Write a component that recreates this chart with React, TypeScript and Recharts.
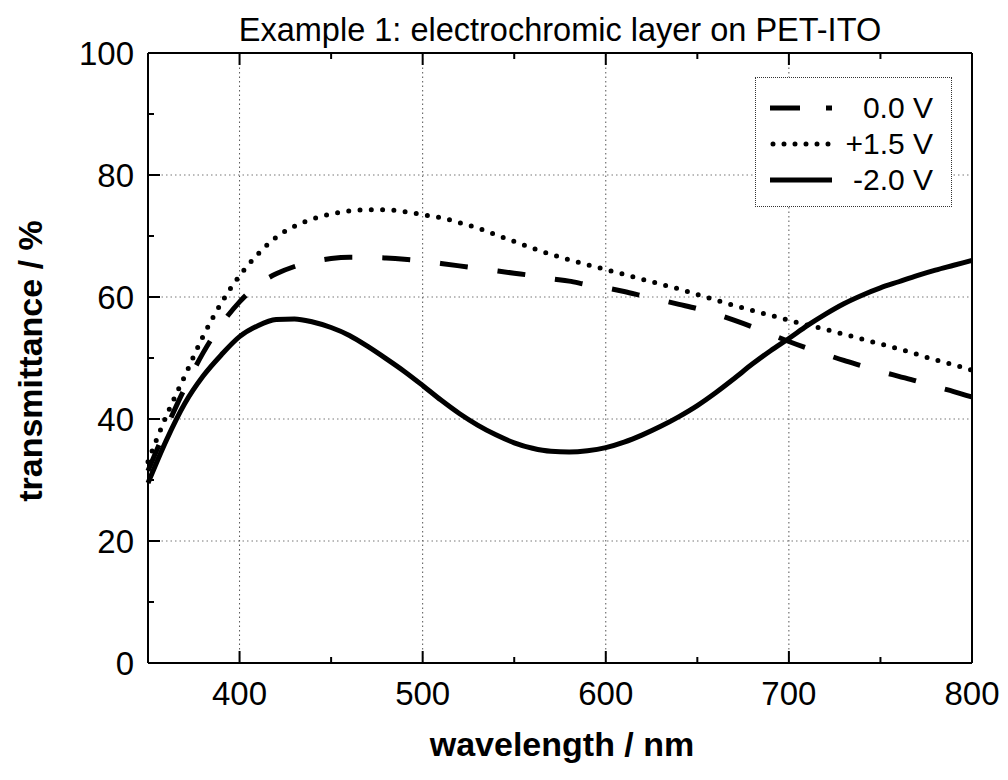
import React from "react";
import { LineChart, Line, XAxis, YAxis, ReferenceLine, Legend } from "recharts";

const FONT = "'Liberation Sans', Arial, sans-serif";

// wavelength in nm
const wavelengths = [
  350, 360, 370, 380, 390, 400, 410, 420, 430, 440, 450, 460, 470, 480, 490, 500,
  510, 520, 530, 540, 550, 560, 570, 580, 590, 600, 610, 620, 630, 640, 650, 660,
  670, 680, 690, 700, 710, 720, 730, 740, 750, 760, 770, 780, 790, 800,
];

// transmittance in %, 0.0 V (dashed)
const zeroVolt = [
  31.5, 38.5, 45, 50.8, 55.5, 59.2, 62, 63.8, 65, 65.8, 66.3, 66.5, 66.5, 66.4, 66.2, 65.9,
  65.5, 65.1, 64.7, 64.3, 63.9, 63.5, 63, 62.6, 62, 61.5, 60.9, 60.2, 59.5, 58.8, 58.1, 57.2,
  56.2, 55.1, 53.9, 52.7, 51.6, 50.6, 49.6, 48.7, 47.8, 47, 46.2, 45.3, 44.5, 43.6,
];

// +1.5 V (dotted)
const plusVolt = [
  33, 40.5, 47, 53.5, 59, 63.5, 67, 69.8, 71.6, 72.8, 73.6, 74.1, 74.3, 74.3, 74, 73.5,
  73, 72.2, 71.3, 70.2, 69.1, 68, 67, 66.1, 65.3, 64.5, 63.7, 62.9, 62.1, 61.3, 60.4, 59.5,
  58.6, 57.8, 57, 56.2, 55.4, 54.7, 53.9, 53.1, 52.3, 51.5, 50.6, 49.7, 48.9, 48,
];

// -2.0 V (solid)
const minusVolt = [
  29.5, 36.5, 42.5, 47, 50.5, 53.5, 55.3, 56.3, 56.4, 55.9, 55, 53.7, 51.9, 49.9, 47.8, 45.5,
  43.1, 40.9, 39, 37.4, 36.1, 35.2, 34.7, 34.6, 34.8, 35.3, 36.2, 37.4, 38.8, 40.4, 42.2, 44.3,
  46.6, 49, 51.2, 53.2, 55.3, 57.2, 58.9, 60.3, 61.5, 62.5, 63.5, 64.4, 65.2, 66,
];

const xTicks = [350, 400, 450, 500, 550, 600, 650, 700, 750, 800];
const yTicks = [0, 10, 20, 30, 40, 50, 60, 70, 80, 90, 100];
const xGrid = [400, 500, 600, 700];
const yGrid = [20, 40, 60, 80];

const data = wavelengths.map((wl, i) => ({
  wl,
  v0: zeroVolt[i],
  vPlus: plusVolt[i],
  vMinus: minusVolt[i],
}));

const legendItems = [
  { label: "0.0 V", dash: "30 26", cap: "butt" },
  { label: "+1.5 V", dash: "0 11", cap: "round" },
  { label: "-2.0 V", dash: undefined, cap: "butt" },
];

const MAJOR = 12;
const MINOR = 6;

const makeXTick = (side: "bottom" | "top") => (props: any) => {
  const { x, y, payload } = props;
  const v = payload.value;
  if (v === 350) return <g />;
  const len = v % 100 === 0 ? MAJOR : MINOR;
  const dir = side === "bottom" ? -1 : 1;
  return (
    <g>
      <line x1={x} x2={x} y1={y} y2={y + dir * len} stroke="#000" strokeWidth={2} />
      {side === "bottom" && v % 100 === 0 && (
        <text x={x} y={y + 42} textAnchor="middle" fontSize={33} fontFamily={FONT} fill="#000">
          {v}
        </text>
      )}
    </g>
  );
};

const makeYTick = (side: "left" | "right") => (props: any) => {
  const { x, y, payload } = props;
  const v = payload.value;
  const len = v % 20 === 0 ? MAJOR : MINOR;
  const dir = side === "left" ? 1 : -1;
  return (
    <g>
      <line x1={x} x2={x + dir * len} y1={y} y2={y} stroke="#000" strokeWidth={2} />
      {side === "left" && v % 20 === 0 && (
        <text x={x - 14} y={y + 12} textAnchor="end" fontSize={33} fontFamily={FONT} fill="#000">
          {v}
        </text>
      )}
    </g>
  );
};

const renderLegend = () => (
  <div
    style={{
      border: "1.5px dotted #333",
      width: 197,
      height: 130,
      boxSizing: "border-box",
      padding: "12px 18px 0 14px",
      fontFamily: FONT,
      fontSize: 30,
      background: "#fff",
      color: "#000",
    }}
  >
    {legendItems.map((it) => (
      <div
        key={it.label}
        style={{ display: "flex", alignItems: "center", justifyContent: "space-between", height: 36 }}
      >
        <svg width={64} height={10}>
          <line
            x1={it.cap === "round" ? 3 : 0}
            x2={62}
            y1={5}
            y2={5}
            stroke="#000"
            strokeWidth={5}
            strokeDasharray={it.dash}
            strokeLinecap={it.cap as any}
          />
        </svg>
        <span style={{ lineHeight: "36px" }}>{it.label}</span>
      </div>
    ))}
  </div>
);

const axisLine = { stroke: "#000", strokeWidth: 2 };

export default function App() {
  return (
    <div style={{ position: "absolute", left: 0, top: 0, width: 1008, height: 780, background: "#fff" }}>
      <LineChart
        width={1008}
        height={780}
        data={data}
        margin={{ top: 13, right: 16, bottom: 57, left: 88 }}
      >
        {xGrid.map((g) => (
          <ReferenceLine key={"x" + g} x={g} stroke="#555" strokeWidth={1} strokeDasharray="1.5 3" />
        ))}
        {yGrid.map((g) => (
          <ReferenceLine key={"y" + g} y={g} stroke="#777" strokeWidth={1} strokeDasharray="1.5 3" />
        ))}
        <XAxis
          dataKey="wl"
          type="number"
          domain={[350, 800]}
          ticks={xTicks}
          height={60}
          tickSize={0}
          tickMargin={0}
          tickLine={false}
          axisLine={axisLine}
          tick={makeXTick("bottom")}
          interval={0}
          label={{
            content: (p: any) => (
              <text
                x={p.viewBox.x + p.viewBox.width / 2 + 2}
                y={p.viewBox.y + 93}
                textAnchor="middle"
                fontSize={34}
                fontWeight="bold"
                fontFamily={FONT}
                fill="#000"
              >
                wavelength / nm
              </text>
            ),
          }}
        />
        <XAxis
          xAxisId="top"
          orientation="top"
          dataKey="wl"
          type="number"
          domain={[350, 800]}
          ticks={xTicks}
          height={40}
          tickSize={0}
          tickMargin={0}
          tickLine={false}
          axisLine={axisLine}
          tick={makeXTick("top")}
          interval={0}
          label={{
            content: (p: any) => (
              <text
                x={p.viewBox.x + p.viewBox.width / 2}
                y={p.viewBox.y + p.viewBox.height - 12}
                textAnchor="middle"
                fontSize={32.5}
                fontFamily={FONT}
                fill="#000"
              >
                Example 1: electrochromic layer on PET-ITO
              </text>
            ),
          }}
        />
        <YAxis
          type="number"
          domain={[0, 100]}
          ticks={yTicks}
          width={60}
          tickSize={0}
          tickMargin={0}
          tickLine={false}
          axisLine={axisLine}
          tick={makeYTick("left")}
          interval={0}
          label={{
            content: (p: any) => {
              const cx = p.viewBox.x + p.viewBox.width - 118;
              const cy = p.viewBox.y + p.viewBox.height / 2 + 3;
              return (
                <text
                  x={cx}
                  y={cy}
                  transform={`rotate(-90 ${cx} ${cy})`}
                  textAnchor="middle"
                  dominantBaseline="central"
                  fontSize={34}
                  fontWeight="bold"
                  fontFamily={FONT}
                  fill="#000"
                >
                  transmittance / %
                </text>
              );
            },
          }}
        />
        <YAxis
          yAxisId="right"
          orientation="right"
          type="number"
          domain={[0, 100]}
          ticks={yTicks}
          width={20}
          tickSize={0}
          tickMargin={0}
          tickLine={false}
          axisLine={axisLine}
          tick={makeYTick("right")}
          interval={0}
        />
        <Line
          dataKey="vMinus"
          type="monotone"
          stroke="#000"
          strokeWidth={5}
          dot={false}
          isAnimationActive={false}
        />
        <Line
          dataKey="v0"
          type="monotone"
          stroke="#000"
          strokeWidth={5}
          strokeDasharray="28 30"
          dot={false}
          isAnimationActive={false}
        />
        <Line
          dataKey="vPlus"
          type="monotone"
          stroke="#000"
          strokeWidth={5}
          strokeDasharray="0 11.3"
          strokeLinecap="round"
          dot={false}
          isAnimationActive={false}
        />
        <Legend
          layout="vertical"
          align="center"
          verticalAlign="middle"
          wrapperStyle={{ left: 755, top: 77, width: 197, height: 130 }}
          content={renderLegend}
        />
      </LineChart>
    </div>
  );
}
